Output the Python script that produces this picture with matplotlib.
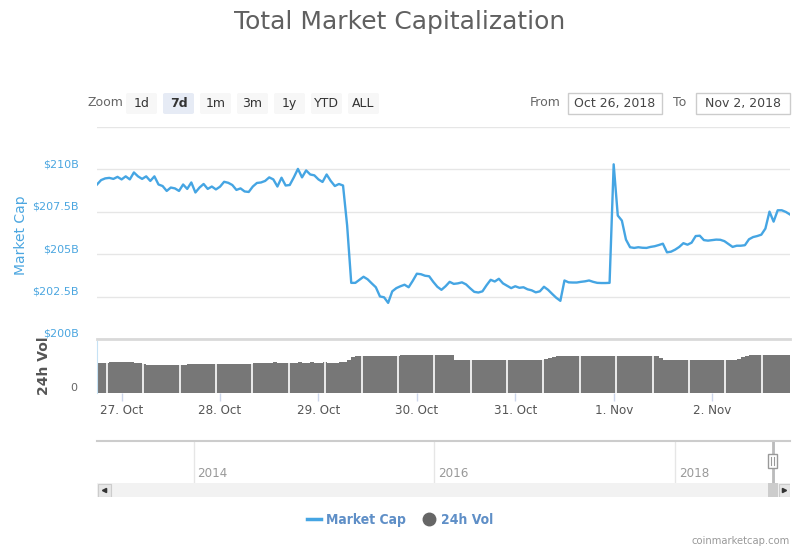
import matplotlib
matplotlib.use('Agg')
import matplotlib.pyplot as plt
import matplotlib.dates as mdates
import matplotlib.transforms as mtrans
from matplotlib.patches import FancyBboxPatch, Rectangle
from matplotlib.lines import Line2D
from matplotlib import font_manager
import numpy as np
import pandas as pd

# Hourly market cap in $B, starting 26 Oct 2018 18:00
cap = [209.11, 209.37, 209.47, 209.50, 209.44, 209.56, 209.41, 209.59, 209.41, 209.82,
       209.59, 209.44, 209.59, 209.32, 209.59, 209.11, 209.02, 208.73, 208.93, 208.88,
       208.73, 209.11, 208.85, 209.23, 208.64, 208.93, 209.14, 208.85, 208.99, 208.82,
       208.98, 209.27, 209.21, 209.08, 208.79, 208.88, 208.70, 208.67, 208.99, 209.20,
       209.23, 209.32, 209.53, 209.41, 208.99, 209.51, 209.05, 209.08, 209.53, 210.03,
       209.53, 209.94, 209.70, 209.65, 209.41, 209.26, 209.70, 209.32, 209.02, 209.14,
       209.05, 206.69, 203.31, 203.31, 203.49, 203.67, 203.52, 203.28, 203.05, 202.51,
       202.46, 202.13, 202.81, 203.00, 203.11, 203.20, 203.05, 203.43, 203.85, 203.82,
       203.73, 203.70, 203.37, 203.08, 202.90, 203.11, 203.37, 203.25, 203.28, 203.34,
       203.22, 202.99, 202.78, 202.74, 202.81, 203.17, 203.49, 203.39, 203.55, 203.28,
       203.14, 203.00, 203.11, 203.02, 203.05, 202.93, 202.87, 202.75, 202.81, 203.08,
       202.90, 202.66, 202.43, 202.25, 203.45, 203.34, 203.33, 203.33, 203.37, 203.40,
       203.45, 203.37, 203.31, 203.30, 203.30, 203.31, 210.30, 207.28, 206.98, 205.86,
       205.41, 205.37, 205.41, 205.38, 205.37, 205.43, 205.47, 205.54, 205.62, 205.11,
       205.15, 205.27, 205.43, 205.65, 205.56, 205.68, 206.07, 206.09, 205.83, 205.80,
       205.83, 205.86, 205.85, 205.77, 205.60, 205.43, 205.50, 205.50, 205.53, 205.88,
       206.01, 206.07, 206.15, 206.51, 207.51, 206.92, 207.59, 207.59, 207.49, 207.34]

# Hourly 24h volume in $B
vol = [11.6, 11.6, 11.6, 11.8, 11.8, 11.8, 11.8, 11.9, 11.8, 11.5,
       11.4, 11.2, 10.7, 10.7, 10.7, 10.6, 10.7, 10.7, 10.7, 10.7,
       10.7, 10.9, 11.1, 11.2, 11.3, 11.3, 11.3, 11.3, 11.3, 11.3,
       11.3, 11.3, 11.3, 11.3, 11.3, 11.3, 11.3, 11.3, 11.4, 11.7,
       11.7, 11.7, 11.7, 11.8, 11.7, 11.7, 11.7, 11.7, 11.7, 11.8,
       11.7, 11.7, 11.8, 11.7, 11.7, 11.8, 11.7, 11.7, 11.7, 11.9,
       12.1, 12.8, 13.7, 14.1, 14.3, 14.3, 14.3, 14.3, 14.3, 14.3,
       14.3, 14.3, 14.3, 14.4, 14.7, 14.7, 14.7, 14.7, 14.7, 14.7,
       14.7, 14.7, 14.7, 14.7, 14.7, 14.6, 14.5, 12.8, 12.6, 12.6,
       12.6, 12.6, 12.6, 12.6, 12.6, 12.6, 12.6, 12.6, 12.6, 12.6,
       12.6, 12.6, 12.6, 12.6, 12.6, 12.6, 12.6, 12.6, 12.7, 13.0,
       13.5, 13.9, 14.1, 14.3, 14.3, 14.3, 14.3, 14.3, 14.3, 14.3,
       14.3, 14.3, 14.3, 14.3, 14.3, 14.3, 14.4, 14.3, 14.3, 14.3,
       14.3, 14.3, 14.3, 14.3, 14.3, 14.3, 14.3, 13.5, 12.6, 12.7,
       12.7, 12.7, 12.7, 12.7, 12.7, 12.7, 12.7, 12.7, 12.7, 12.7,
       12.7, 12.7, 12.7, 12.7, 12.7, 12.7, 13.2, 13.8, 14.2, 14.5,
       14.7, 14.7, 14.7, 14.7, 14.7, 14.8, 14.7, 14.7, 14.8, 14.7]

start = '2018-10-26 18:00'
cap_ticks = [200, 202.5, 205, 207.5, 210, 212.5]
cap_tick_labels = ['$200B', '$202.5B', '$205B', '$207.5B', '$210B', '']
day_ticks = ['2018-10-27', '2018-10-28', '2018-10-29', '2018-10-30',
             '2018-10-31', '2018-11-01', '2018-11-02']
day_labels = ['27. Oct', '28. Oct', '29. Oct', '30. Oct', '31. Oct', '1. Nov', '2. Nov']
nav_range = ['2013-03-14', '2018-12-17']
year_ticks = ['2014-01-01', '2016-01-01', '2018-01-01']
year_labels = ['2014', '2016', '2018']
selection = ['2018-10-26', '2018-11-02']
zoom_buttons = ['1d', '7d', '1m', '3m', '1y', 'YTD', 'ALL']
zoom_selected = '7d'
date_from = 'Oct 26, 2018'
date_to = 'Nov 2, 2018'

LINE = '#45a5e3'
AXBLUE = '#4ba6e0'
BAR = '#777777'

plt.rcParams['font.family'] = ['DejaVu Sans']

# look for a condensed face for the narrow labels
narrow_file = None
for f in font_manager.fontManager.ttflist:
    if ('Narrow' in f.name or 'Condensed' in f.name or f.stretch == 'condensed') \
            and f.weight in (400, 'normal', 'regular') and f.style == 'normal':
        narrow_file = f.fname
        break
narrow_bold_file = None
for f in font_manager.fontManager.ttflist:
    if ('Narrow' in f.name or 'Condensed' in f.name or f.stretch == 'condensed') \
            and f.weight in (700, 'bold') and f.style == 'normal':
        narrow_bold_file = f.fname
        break


def narrow(size, bold=False):
    fn = narrow_bold_file if bold else narrow_file
    if fn:
        return font_manager.FontProperties(fname=fn, size=size)
    return font_manager.FontProperties(family='DejaVu Sans', size=size * 0.85,
                                       weight='bold' if bold else 'normal')


W, H = 800, 550


def rect(x0, y0, x1, y1):
    return [x0 / W, 1 - y1 / H, (x1 - x0) / W, (y1 - y0) / H]


def fx(x):
    return x / W


def fy(y):
    return 1 - y / H


fig = plt.figure(figsize=(8, 5.5), dpi=100)
fig.patch.set_facecolor('white')

times = pd.date_range(start, periods=len(cap), freq='h')

# main pane
ax = fig.add_axes(rect(97, 127, 790, 339))
ax.plot(times, cap, color=LINE, lw=1.7, solid_joinstyle='round', zorder=3)
ax.set_xlim(times[0], times[-1])
ax.set_ylim(200, 212.5)
ax.set_yticks(cap_ticks)
ax.set_yticklabels(cap_tick_labels)
for lab in ax.get_yticklabels():
    lab.set_verticalalignment('bottom')
ax.tick_params(axis='y', length=0, pad=13, labelsize=8, labelcolor=AXBLUE)
ax.tick_params(axis='x', bottom=False, labelbottom=False)
ax.grid(axis='y', color='#e6e6e6', lw=1)
for s in ['top', 'right', 'left']:
    ax.spines[s].set_visible(False)
ax.spines['bottom'].set_color('#d9d9d9')
ax.spines['bottom'].set_linewidth(2)
fig.text(fx(21), fy(235), 'Market Cap', rotation=90, ha='center', va='center',
         color=AXBLUE, fontsize=10)

# volume pane
axv = fig.add_axes(rect(97, 341, 790, 393), sharex=ax)
axv.bar(times, vol, width=1 / 24, align='edge', color=BAR, lw=0)
sep_hours = np.arange(2.44, len(vol), 8.87)
for h in sep_hours:
    axv.axvline(times[0] + pd.Timedelta(hours=float(h)), color='white', lw=1.2)
axv.set_ylim(0, 20)
axv.set_yticks([0])
axv.set_yticklabels(['0'])
for lab in axv.get_yticklabels():
    lab.set_verticalalignment('bottom')
axv.tick_params(axis='y', length=0, pad=14, labelsize=8, labelcolor='#666666')
axv.set_xticks(pd.to_datetime(day_ticks))
axv.set_xticklabels(day_labels)
for lab in axv.get_xticklabels():
    lab.set_fontproperties(narrow(9.5))
axv.tick_params(axis='x', length=6, width=1, color='#ccd6eb', pad=2,
                labelcolor='#555555')
axv.set_xlim(times[0], times[-1])
for s in ['top', 'right', 'bottom']:
    axv.spines[s].set_visible(False)
axv.spines['left'].set_color('#c6e2f5')
fig.text(fx(44), fy(366), '24h Vol', rotation=90, ha='center', va='center',
         color='#555555', fontsize=10, fontweight='bold')

# navigator
axn = fig.add_axes(rect(97, 441, 790, 483))
nav_lo, nav_hi = pd.to_datetime(nav_range)
axn.set_xlim(nav_lo, nav_hi)
axn.set_ylim(0, 1)
axn.set_xticks([])
axn.set_yticks([])
for s in ['bottom', 'right', 'left']:
    axn.spines[s].set_visible(False)
axn.spines['top'].set_color('#cccccc')
axn.spines['top'].set_linewidth(1.5)
xtr = axn.get_xaxis_transform()
lab_tr = mtrans.offset_copy(xtr, fig=fig, x=4, y=0, units='dots')
for d, lbl in zip(pd.to_datetime(year_ticks), year_labels):
    axn.axvline(d, color='#e6e6e6', lw=1)
    axn.text(d, 0.22, lbl, transform=lab_tr, ha='left', va='center',
             color='#999999', fontproperties=narrow(9.5))
sel_lo, sel_hi = pd.to_datetime(selection)
axn.axvspan(sel_lo, sel_hi, color='#c9d9ef', alpha=0.6, lw=0)
sel_x = mdates.date2num(sel_lo)
axn.axvline(sel_lo, color='#bbbbbb', lw=2)
day_px = (mdates.date2num(nav_hi) - mdates.date2num(nav_lo)) / 693.0
axn.add_patch(Rectangle((sel_x - 4.5 * day_px, 0.35), 9 * day_px, 0.34,
                        transform=xtr, fc='white', ec='#999999', lw=1, zorder=4))
for off in (-1.5, 1.5):
    axn.plot([sel_x + off * day_px] * 2, [0.43, 0.61], transform=xtr,
             color='#999999', lw=0.8, zorder=5)

# scrollbar
axs = fig.add_axes(rect(97, 483, 790, 497))
axs.set_xlim(0, 693)
axs.set_ylim(0, 14)
axs.set_facecolor('#f2f2f2')
axs.set_xticks([])
axs.set_yticks([])
for s in axs.spines.values():
    s.set_visible(False)
slider_x = (sel_x - mdates.date2num(nav_lo)) / day_px
axs.add_patch(Rectangle((slider_x - 5, 0), 10, 14, fc='#cccccc', ec='none'))
axs.add_patch(Rectangle((0.5, 0.5), 13, 13, fc='#e6e6e6', ec='#cccccc', lw=0.8))
axs.add_patch(Rectangle((681.5, 0.5), 11, 13, fc='#e6e6e6', ec='#cccccc', lw=0.8))
axs.plot([7], [7], marker='<', ms=3, color='#333333')
axs.plot([687], [7], marker='>', ms=3, color='#333333')

# title
fig.text(0.5, fy(22), 'Total Market Capitalization', ha='center', va='center',
         fontsize=18, color='#606060')

# zoom buttons
fig.text(fx(88), fy(103), 'Zoom', ha='left', va='center', fontsize=9, color='#666666')
for i, b in enumerate(zoom_buttons):
    x0 = 126 + i * 37
    sel = b == zoom_selected
    fig.patches.append(FancyBboxPatch((fx(x0), fy(114)), 31 / W, 21 / H,
                                      boxstyle='round,pad=0,rounding_size=0.003',
                                      transform=fig.transFigure,
                                      fc='#e6ebf5' if sel else '#f7f7f7', ec='none'))
    fig.text(fx(x0 + 15.5), fy(103.5), b, ha='center', va='center', fontsize=9,
             color='#333333', fontweight='bold' if sel else 'normal')

# date inputs
fig.text(fx(530), fy(103), 'From', ha='left', va='center', fontsize=9, color='#666666')
fig.text(fx(673), fy(103), 'To', ha='left', va='center', fontsize=9, color='#666666')
for x0, txt in ((568, date_from), (696, date_to)):
    fig.patches.append(Rectangle((fx(x0), fy(114)), 94 / W, 21 / H,
                                 transform=fig.transFigure, fc='white',
                                 ec='#cccccc', lw=1))
    fig.text(fx(x0 + 47), fy(103.5), txt, ha='center', va='center', fontsize=9,
             color='#444444')

# legend
handles = [Line2D([], [], color=LINE, lw=2.5),
           Line2D([], [], color='#666666', marker='o', ms=9, lw=0)]
leg = fig.legend(handles, ['Market Cap', '24h Vol'], loc='center',
                 bbox_to_anchor=(0.5, fy(520)), ncol=2, frameon=False,
                 handlelength=1.0, handletextpad=0.35, columnspacing=1.2,
                 prop=narrow(10, bold=True))
for t in leg.get_texts():
    t.set_color('#5f8fc7')

fig.text(fx(790), fy(541), 'coinmarketcap.com', ha='right', va='center',
         color='#999999', fontproperties=narrow(8))

fig.savefig('out.png', dpi=100)
